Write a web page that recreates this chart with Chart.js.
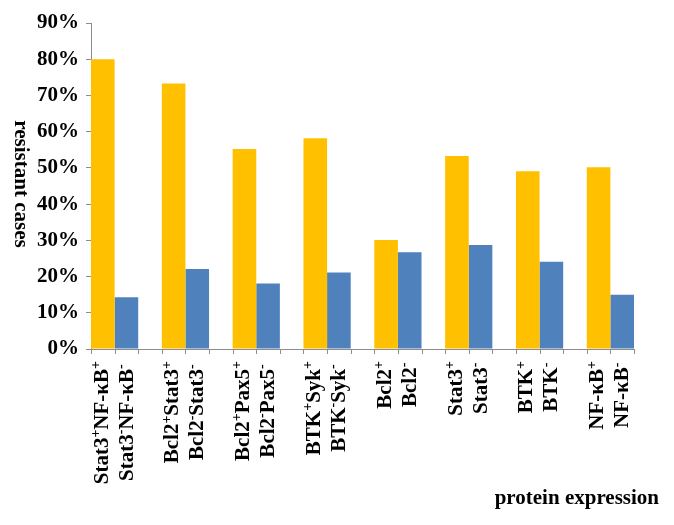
<!DOCTYPE html>
<html>
<head>
<meta charset="utf-8">
<script src="https://cdn.jsdelivr.net/npm/chart.js@4"></script>
<style>
  body { margin: 0; background: #fff; }
  canvas { display: block; }
</style>
</head>
<body>
<canvas id="chart" width="674" height="525"></canvas>
<script>
// ===== Data =====
const groupLabels = [
  ["Stat3⁺NF-κB⁺", "Stat3⁻NF-κB⁻"],
  ["Bcl2⁺Stat3⁺", "Bcl2⁻Stat3⁻"],
  ["Bcl2⁺Pax5⁺", "Bcl2⁻Pax5⁻"],
  ["BTK⁺Syk⁺", "BTK⁻Syk⁻"],
  ["Bcl2⁺", "Bcl2⁻"],
  ["Stat3⁺", "Stat3⁻"],
  ["BTK⁺", "BTK⁻"],
  ["NF-κB⁺", "NF-κB⁻"],
];
const positiveValues = [80, 73.3, 55.2, 58.2, 30.1, 53.3, 49.1, 50.2];
const negativeValues = [14.3, 22.1, 18.1, 21.1, 26.7, 28.7, 24.1, 15.0];
const yTicks = [0, 10, 20, 30, 40, 50, 60, 70, 80, 90];

const SERIF = "'Liberation Serif', 'Times New Roman', 'DejaVu Serif', serif";
const AXIS_GREY = "#8c8c8c";
const LABEL_FONT = `bold 21px ${SERIF}`;
const SUP_FONT = `bold 14px ${SERIF}`;
const SUPS = { "⁺": "+", "⁻": "-" };

Chart.defaults.font.family = SERIF;
Chart.defaults.color = "#000";

// bars fill 2 of every 3 slots, no gap before the first group or after the last
function squeezeCategories(scale) {
  scale._startValue = -1 / 3;
  scale._valueRange = (groupLabels.length * 3 - 1) / 3;
}

// split "Bcl2⁺Stat3⁻" into normal / superscript runs
function runs(text) {
  const out = [];
  for (const ch of text) {
    const sup = ch in SUPS;
    const last = out[out.length - 1];
    if (last && last.sup === sup) last.text += sup ? SUPS[ch] : ch;
    else out.push({ sup, text: sup ? SUPS[ch] : ch });
  }
  return out;
}

function runsWidth(ctx, parts) {
  return parts.reduce((w, p) => {
    ctx.font = p.sup ? SUP_FONT : LABEL_FONT;
    return w + ctx.measureText(p.text).width;
  }, 0);
}

// ===== Extra drawing: category labels, slot tick marks, axis titles =====
const decorations = {
  id: "decorations",
  afterDraw(chart) {
    const { ctx } = chart;
    const x = chart.scales.x;
    const y = chart.scales.y;

    // tick marks at every bar edge
    ctx.save();
    ctx.strokeStyle = AXIS_GREY;
    ctx.lineWidth = 1;
    for (let k = 0; k <= groupLabels.length * 3 - 1; k++) {
      const px = Math.round(x.getPixelForValue(k / 3 - 1 / 3)) + 0.5;
      ctx.beginPath();
      ctx.moveTo(px, y.bottom);
      ctx.lineTo(px, y.bottom + 5);
      ctx.stroke();
    }
    ctx.restore();

    // two-line rotated labels, lines centred on each other
    ctx.save();
    ctx.fillStyle = "#000";
    ctx.textBaseline = "middle";
    ctx.textAlign = "left";
    groupLabels.forEach((lines, i) => {
      const cx = x.getPixelForValue(i);
      const parts = lines.map(runs);
      const widths = parts.map((p) => runsWidth(ctx, p));
      const longest = Math.max(...widths);
      const midY = y.bottom + 12 + longest / 2;
      parts.forEach((p, j) => {
        const lx = cx + (j - 0.5) * 25;
        ctx.save();
        ctx.translate(lx, midY);
        ctx.rotate(-Math.PI / 2);
        let pos = -widths[j] / 2;
        p.forEach((r) => {
          ctx.font = r.sup ? SUP_FONT : LABEL_FONT;
          ctx.fillText(r.text, pos, r.sup ? -6 : 0);
          pos += ctx.measureText(r.text).width;
        });
        ctx.restore();
      });
    });
    ctx.restore();

    // y title, reads top to bottom
    ctx.save();
    ctx.font = `bold 21px ${SERIF}`;
    ctx.fillStyle = "#000";
    ctx.translate(20, 184);
    ctx.rotate(Math.PI / 2);
    ctx.textAlign = "center";
    ctx.textBaseline = "middle";
    ctx.fillText("resistant cases", 0, 0);
    ctx.restore();

    // x title, bottom right
    ctx.save();
    ctx.font = `bold 21px ${SERIF}`;
    ctx.fillStyle = "#000";
    ctx.textAlign = "right";
    ctx.textBaseline = "middle";
    ctx.fillText("protein expression", 659, 499);
    ctx.restore();
  },
};

// ===== Chart =====
new Chart(document.getElementById("chart"), {
  type: "bar",
  data: {
    labels: groupLabels,
    datasets: [
      {
        label: "positive",
        data: positiveValues,
        backgroundColor: "#FFC000",
        categoryPercentage: 2 / 3,
        barPercentage: 1,
      },
      {
        label: "negative",
        data: negativeValues,
        backgroundColor: "#4F81BD",
        categoryPercentage: 2 / 3,
        barPercentage: 1,
      },
    ],
  },
  options: {
    responsive: false,
    animation: false,
    layout: { padding: { top: 23, right: 40, left: 0, bottom: 0 } },
    plugins: {
      legend: { display: false },
      tooltip: { enabled: false },
    },
    scales: {
      x: {
        afterBuildTicks: squeezeCategories,
        afterFit: (scale) => {
          scale.height = 176;
        },
        grid: { display: false },
        border: { display: true, color: AXIS_GREY },
        ticks: { display: false, autoSkip: false },
      },
      y: {
        min: 0,
        max: 90,
        afterBuildTicks: (scale) => {
          scale.ticks = yTicks.map((v) => ({ value: v }));
        },
        afterFit: (scale) => {
          scale.width = 91;
        },
        grid: {
          drawOnChartArea: false,
          drawTicks: true,
          tickLength: 5,
          tickColor: AXIS_GREY,
        },
        border: { display: true, color: AXIS_GREY },
        ticks: {
          padding: 7,
          color: "#000",
          font: { size: 21, weight: "bold" },
          callback: (v) => v + "%",
        },
      },
    },
  },
  plugins: [decorations],
});
</script>
</body>
</html>
